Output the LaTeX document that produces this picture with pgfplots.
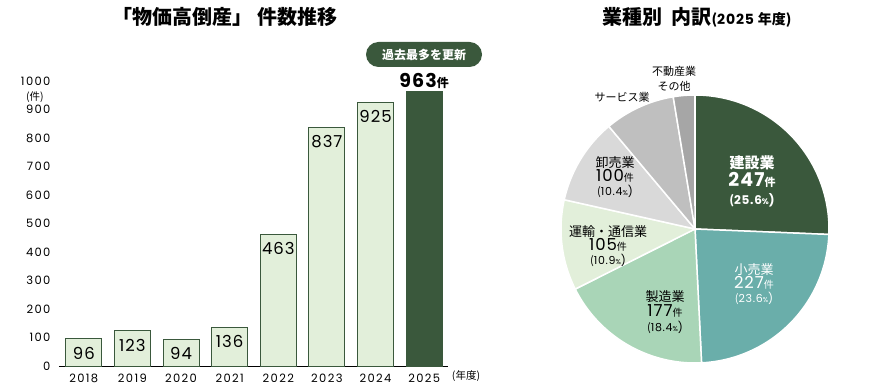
\documentclass[border=0pt]{standalone}
\usepackage{pgfplots}
\pgfplotsset{compat=1.18}
\usepackage{fontspec}
\setmainfont{Noto Sans CJK JP}
\newfontfamily\num{Poppins}
\newfontfamily\numw[LetterSpace=12,Numbers=Monospaced]{Poppins}
\newfontfamily\numv[LetterSpace=6]{Poppins}
\definecolor{dg}{RGB}{58,88,60}
\definecolor{lg}{RGB}{226,239,218}
\definecolor{teal}{RGB}{106,174,170}
\definecolor{mg}{RGB}{169,213,183}
\definecolor{g1}{RGB}{217,217,217}
\definecolor{g2}{RGB}{191,191,191}
\definecolor{g3}{RGB}{166,166,166}
\newcommand\fs[1]{\fontsize{#1}{#1}\selectfont}
\newcommand\fsb[2]{\fontsize{#1}{#2}\selectfont}
\newcommand\ken[1]{{\rmfamily\fs{#1}件}}
% pie data (counts)
\def\vA{247}\def\vB{227}\def\vC{177}\def\vD{105}\def\vE{100}\def\vF{82}\def\vG{25}
\pgfmathsetmacro\tot{\vA+\vB+\vC+\vD+\vE+\vF+\vG}
\pgfmathsetmacro\aA{90}
\pgfmathsetmacro\aB{\aA-\vA/\tot*360}
\pgfmathsetmacro\aC{\aB-\vB/\tot*360}
\pgfmathsetmacro\aD{\aC-\vC/\tot*360}
\pgfmathsetmacro\aE{\aD-\vD/\tot*360}
\pgfmathsetmacro\aF{\aE-\vE/\tot*360}
\pgfmathsetmacro\aG{\aF-\vF/\tot*360}
\pgfmathsetmacro\aH{\aG-\vG/\tot*360}
\begin{document}
\begin{tikzpicture}[x=1pt,y=1pt]
\useasboundingbox (0,0) rectangle (887,388);
\begin{axis}[at={(59pt,22pt)}, anchor=south west, scale only axis,
  width=389pt, height=285pt, xmin=-0.51, xmax=7.49, ymin=0, ymax=1000,
  clip=false,
  axis lines*=left, axis line style={-}, y axis line style={draw=none},
  x axis line style={line width=0.9pt, black},
  major tick length=0pt,
  ytick={0,100,...,1000},
  xtick={0,...,7}, xticklabels={2018,2019,2020,2021,2022,2023,2024,2025},
  yticklabel style={font=\numw\fs{11.5}, xshift=-5pt},
  xticklabel style={font=\numw\fs{11.5}, yshift=-4pt, text height=8.5pt, text depth=0pt},
  /pgf/number format/assume math mode=true,
  /pgf/number format/1000 sep={},
  ]
\addplot[ybar, bar width=36pt, bar shift=0pt, fill=lg, draw=dg, line width=0.9pt,
  nodes near coords,
  every node near coord/.append style={anchor=north, font=\numv\fs{16.5}, text=black, yshift=-4.5pt}]
  coordinates {(0,96)(1,123)(2,94)(3,136)(4,463)(5,837)(6,925)};
\addplot[ybar, bar width=36pt, bar shift=0pt, fill=dg, draw=dg, line width=0.9pt,
  nodes near coords={\bfseries\numv\fs{19}\pgfmathprintnumber{\pgfplotspointmeta}{\rmfamily\fs{12}\bfseries 件}},
  every node near coord/.append style={anchor=south, text=black, yshift=-1pt}]
  coordinates {(7,963)};
\end{axis}
% left texts
\node[font=\bfseries\fs{20}] at (225,371) {「物価高倒産」 件数推移};
\node[font=\fs{10.5}] at (35,291) {(件)};
\node[font=\fs{10.5}] at (466,12) {(年度)};
\node[fill=dg, text=white, font=\bfseries\fs{12}, rounded corners=12.5pt,
  minimum width=116pt, minimum height=25pt, inner sep=0pt] at (424,333.5) {過去最多を更新};
% pie
\begin{axis}[at={(561pt,25pt)}, anchor=south west, scale only axis,
  width=268pt, height=268pt, xmin=-1, xmax=1, ymin=-1, ymax=1, hide axis, clip=false]
\addplot[fill=dg, draw=white, line width=1.5pt, domain=\aB:\aA, samples=60] ({cos(x)},{sin(x)}) -- (0,0) -- cycle;
\addplot[fill=teal, draw=white, line width=1.5pt, domain=\aC:\aB, samples=60] ({cos(x)},{sin(x)}) -- (0,0) -- cycle;
\addplot[fill=mg, draw=white, line width=1.5pt, domain=\aD:\aC, samples=60] ({cos(x)},{sin(x)}) -- (0,0) -- cycle;
\addplot[fill=lg, draw=white, line width=1.5pt, domain=\aE:\aD, samples=40] ({cos(x)},{sin(x)}) -- (0,0) -- cycle;
\addplot[fill=g1, draw=white, line width=1.5pt, domain=\aF:\aE, samples=40] ({cos(x)},{sin(x)}) -- (0,0) -- cycle;
\addplot[fill=g2, draw=white, line width=1.5pt, domain=\aG:\aF, samples=40] ({cos(x)},{sin(x)}) -- (0,0) -- cycle;
\addplot[fill=g3, draw=white, line width=1.5pt, domain=\aH:\aG, samples=20] ({cos(x)},{sin(x)}) -- (0,0) -- cycle;
\end{axis}
% right title
\node[font=\bfseries\fs{20}] at (697,371) {業種別\hspace{0.45em}内訳{\fs{14}(\numv\bfseries 2025 \rmfamily 年度)}};
% pie labels
\begin{scope}[every node/.style={inner sep=0pt, align=center}]
\node[text=white, font=\bfseries\fsb{15}{18}] at (752,207) {\lineskiplimit=-20pt 建設業\\{\bfseries\numv\fsb{19}{17}247\ken{11}}\\{\fsb{12}{16}(\numv\bfseries 25.6{\fs{8}\%})}};
\node[text=white, font=\fsb{13}{14}] at (754,104) {\lineskiplimit=-20pt 小売業\\{\numv\fsb{16.5}{14}227\ken{10}}\\{\fsb{11}{14}(\numv 23.6{\fs{7}\%})}};
\node[font=\fsb{13}{15}] at (665,76) {\lineskiplimit=-20pt 製造業\\{\numv\fsb{16.5}{15}177\ken{10}}\\{\fsb{11}{15}(\numv 18.4{\fs{7}\%})}};
\node[font=\fsb{13}{14}] at (608,142) {\lineskiplimit=-20pt 運輸・通信業\\{\numv\fsb{16.5}{13.5}105\ken{10}}\\{\fsb{11}{14.5}(\numv 10.9{\fs{7}\%})}};
\node[font=\fsb{13}{14}] at (615,211) {\lineskiplimit=-20pt 卸売業\\{\numv\fsb{16.5}{14}100\ken{10}}\\{\fsb{11}{14}(\numv 10.4{\fs{7}\%})}};
\node[font=\fs{11}] at (622,291) {サービス業};
\node[font=\fsb{11}{15}] at (674,309.5) {\lineskiplimit=-20pt 不動産業\\その他};
\end{scope}
\end{tikzpicture}
\end{document}
